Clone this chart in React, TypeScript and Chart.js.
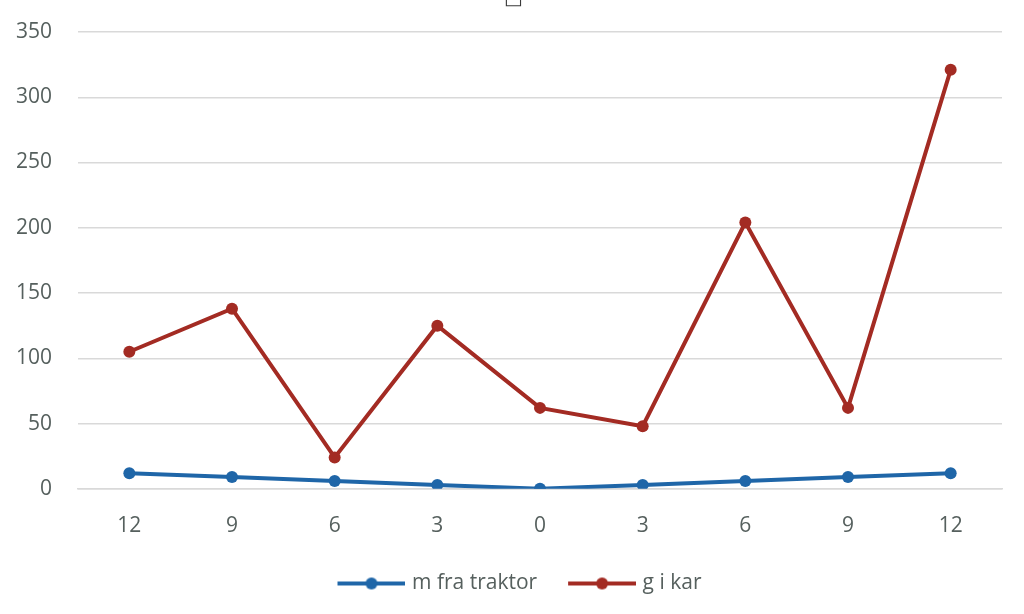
import React, { useEffect, useRef } from "react";
import { Chart, registerables } from "chart.js";

Chart.register(...registerables);

const categories = ["12", "9", "6", "3", "0", "3", "6", "9", "12"];
const seriesNames = ["m fra traktor", "g i kar"];
const traktorValues = [12, 9, 6, 3, 0, 3, 6, 9, 12];
const karValues = [105, 138, 24, 125, 62, 48, 204, 62, 321];
const titleText = "\u25A1";
const colors = ["#1f66a8", "#a32b23"];
const textColor = "#56605e";

const BOX_W = 86;
const OVER = 4;

function legendMarker(color: string): HTMLCanvasElement {
  const c = document.createElement("canvas");
  c.width = BOX_W + OVER * 2;
  c.height = 14;
  const ctx = c.getContext("2d")!;
  const x0 = 22 + OVER;
  const x1 = c.width;
  ctx.strokeStyle = color;
  ctx.lineWidth = 4;
  ctx.beginPath();
  ctx.moveTo(x0, 7);
  ctx.lineTo(x1, 7);
  ctx.stroke();
  ctx.fillStyle = color;
  ctx.beginPath();
  ctx.arc((x0 + x1) / 2, 7, 6, 0, Math.PI * 2);
  ctx.fill();
  return c;
}

const topTitle = {
  id: "topTitle",
  afterDraw(chart: any) {
    const ctx = chart.ctx;
    ctx.save();
    ctx.fillStyle = "#3a3a3a";
    ctx.font = "20px 'DejaVu Sans'";
    ctx.textAlign = "center";
    ctx.textBaseline = "alphabetic";
    ctx.fillText(titleText, 513.5, 4);
    ctx.restore();
  },
};

export default function App() {
  const ref = useRef<HTMLCanvasElement>(null);
  useEffect(() => {
    if (!ref.current) return;
    const markers = colors.map(legendMarker);
    const chart = new Chart(ref.current, {
      type: "line",
      data: {
        labels: categories,
        datasets: [
          {
            label: seriesNames[0],
            data: traktorValues,
            borderColor: colors[0],
            backgroundColor: colors[0],
            borderWidth: 4,
            pointRadius: 6,
            pointBackgroundColor: colors[0],
            pointBorderWidth: 0,
            tension: 0,
          },
          {
            label: seriesNames[1],
            data: karValues,
            borderColor: colors[1],
            backgroundColor: colors[1],
            borderWidth: 4,
            pointRadius: 6,
            pointBackgroundColor: colors[1],
            pointBorderWidth: 0,
            tension: 0,
          },
        ],
      },
      plugins: [topTitle],
      options: {
        animation: false,
        responsive: false,
        maintainAspectRatio: false,
        layout: { padding: { left: 15, right: 22, top: 32, bottom: 10 } },
        plugins: {
          title: { display: false },
          legend: {
            position: "bottom",
            labels: {
              usePointStyle: true,
              pointStyleWidth: BOX_W,
              color: textColor,
              font: { family: "Open Sans", size: 21 },
              padding: 9,
              generateLabels: (ch: any) =>
                ch.data.datasets.map((ds: any, i: number) => ({
                  text: ds.label,
                  pointStyle: markers[i],
                  fillStyle: colors[i],
                  strokeStyle: colors[i],
                  lineWidth: 0,
                  hidden: false,
                  datasetIndex: i,
                  fontColor: textColor,
                })),
            },
          },
          tooltip: { enabled: false },
        },
        scales: {
          x: {
            offset: true,
            grid: { display: false, drawTicks: false },
            border: { display: true, color: "#d9d9d9", width: 1.5 },
            ticks: {
              color: textColor,
              font: { family: "Open Sans", size: 21 },
              padding: 25,
            },
          },
          y: {
            min: 0,
            max: 350,
            grid: { color: "#d9d9d9", drawTicks: false, lineWidth: 1.5 },
            border: { display: false },
            afterFit: (scale: any) => {
              scale.width = 63;
              scale.paddingTop = 0;
              scale.paddingBottom = 0;
            },
            ticks: {
              stepSize: 50,
              color: textColor,
              font: { family: "Open Sans", size: 21 },
              padding: 26,
            },
          },
        },
      },
    });
    return () => chart.destroy();
  }, []);
  return (
    <div style={{ position: "absolute", left: 0, top: 0, width: 1024, height: 614, background: "#ffffff" }}>
      <canvas ref={ref} width={1024} height={614} />
    </div>
  );
}
